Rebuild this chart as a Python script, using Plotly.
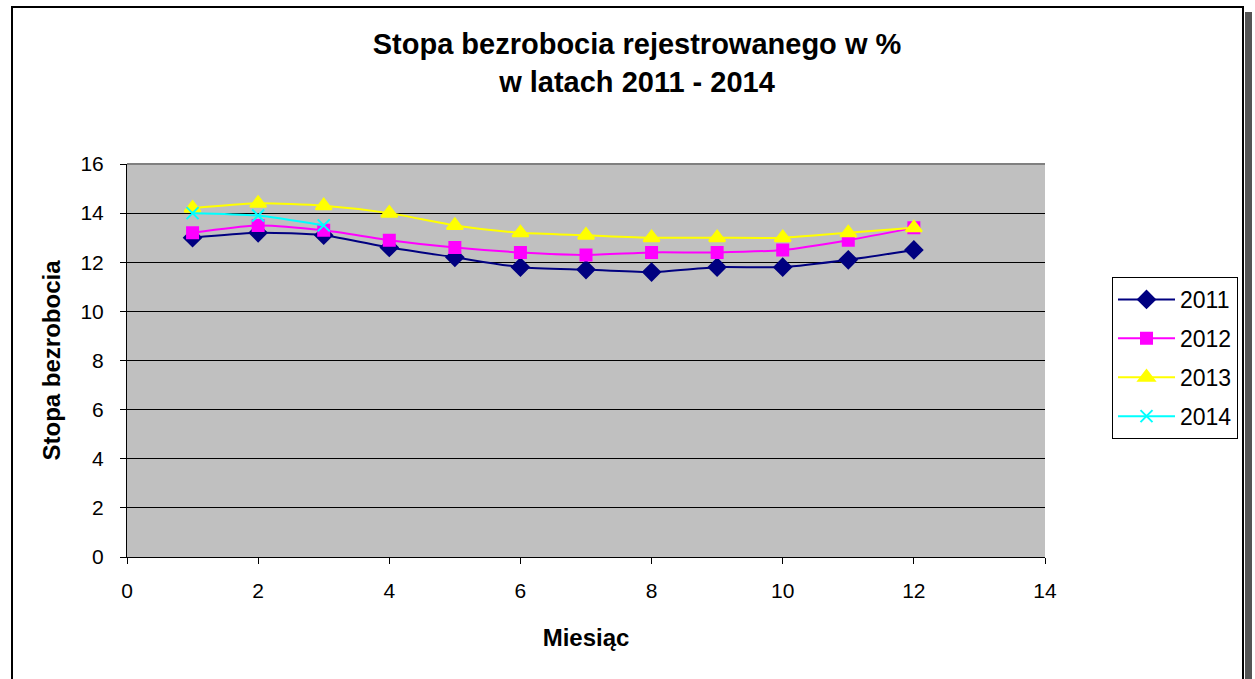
import plotly.graph_objects as go

months = [1, 2, 3, 4, 5, 6, 7, 8, 9, 10, 11, 12]
months_2014 = [1, 2, 3]
y2011 = [13.0, 13.2, 13.1, 12.6, 12.2, 11.8, 11.7, 11.6, 11.8, 11.8, 12.1, 12.5]
y2012 = [13.2, 13.5, 13.3, 12.9, 12.6, 12.4, 12.3, 12.4, 12.4, 12.5, 12.9, 13.4]
y2013 = [14.2, 14.4, 14.3, 14.0, 13.5, 13.2, 13.1, 13.0, 13.0, 13.0, 13.2, 13.4]
y2014 = [14.0, 13.9, 13.5]

W, H = 1255, 679
L, R, T, B = 127, 1045, 164, 557


def px(x):
    return (x - L) / (R - L)


def py(y):
    return (B - y) / (B - T)


fig = go.Figure()
series = [
    ("2011", months, y2011, "#000080", "diamond", 13),
    ("2012", months, y2012, "#FF00FF", "square", 11),
    ("2013", months, y2013, "#FFFF00", "triangle-up", 14),
    ("2014", months_2014, y2014, "#00FFFF", "x-thin", 12),
]
for name, xs, ys, col, sym, sz in series:
    fig.add_trace(go.Scatter(
        x=xs, y=ys, name=name, mode="lines+markers", legendgroup=name,
        line=dict(color=col, width=2, shape="spline", smoothing=0.6),
        marker=dict(symbol=sym, size=sz, color=col,
                    line=dict(color=col, width=2)),
    ))

font = "Liberation Sans, Arial, sans-serif"
fig.update_layout(
    width=W, height=H,
    margin=dict(l=L, r=W - R, t=T, b=H - B),
    paper_bgcolor="white", plot_bgcolor="#C0C0C0",
    font=dict(family=font, size=21, color="black"),
    title=dict(text="<b>Stopa bezrobocia rejestrowanego w %<br>w latach 2011 - 2014</b>",
               x=637 / W, xanchor="center", y=1 - 54 / H, yanchor="middle",
               font=dict(size=29, family=font)),
    xaxis=dict(range=[0, 14], dtick=2, showgrid=False, zeroline=False,
               showline=True, linecolor="black", linewidth=1,
               ticks="outside", ticklen=6, tickcolor="black", ticklabelstandoff=9,
               title=dict(text="<b>Miesiąc</b>", font=dict(size=24), standoff=27)),
    yaxis=dict(range=[0, 16], dtick=2, showgrid=True, gridcolor="black", gridwidth=1,
               zeroline=False, showline=True, linecolor="black", linewidth=1,
               ticks="outside", ticklen=6, tickcolor="black", ticklabelstandoff=12,
               title=dict(text="<b>Stopa bezrobocia</b>", font=dict(size=24), standoff=13)),
    legend=dict(x=px(1112), y=py(277), xanchor="left", yanchor="top",
                bordercolor="black", borderwidth=1, bgcolor="white",
                font=dict(size=23), tracegroupgap=6, traceorder="grouped",
                itemwidth=57),
    showlegend=True,
)

# top border of plot area (gray)
fig.add_shape(type="line", xref="paper", yref="paper", x0=0, x1=1, y0=1, y1=1,
              line=dict(color="#808080", width=2))
# outer frame and shadow
fig.add_shape(type="rect", xref="paper", yref="paper",
              x0=px(1245), x1=px(1252), y0=py(700), y1=py(12),
              fillcolor="#555555", line=dict(width=0), layer="below")
fig.add_shape(type="rect", xref="paper", yref="paper",
              x0=px(12), x1=px(1243), y0=py(700), y1=py(7),
              line=dict(color="black", width=2), layer="below")

fig.write_html("out.html", config={"displayModeBar": False},
               post_script="document.body.style.margin='0';document.body.style.overflow='hidden';")
